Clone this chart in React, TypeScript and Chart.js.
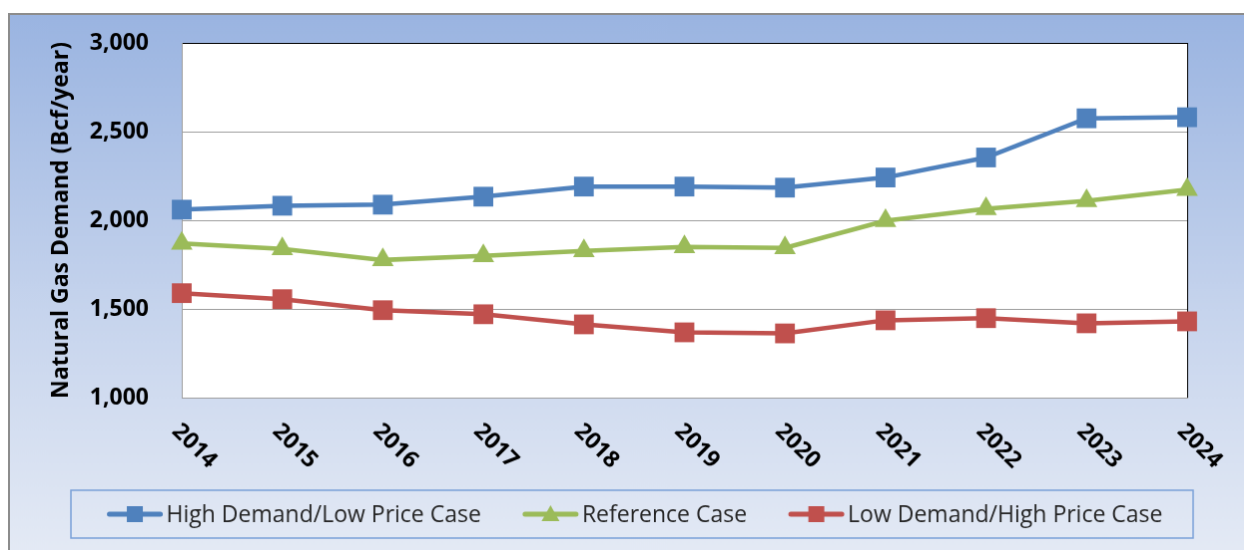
import React, { useEffect, useRef } from "react";
import { Chart, registerables } from "chart.js";

Chart.register(...registerables);

const years = ["2014", "2015", "2016", "2017", "2018", "2019", "2020", "2021", "2022", "2023", "2024"];
const highDemandLowPrice = [2060, 2082, 2088, 2133, 2190, 2190, 2184, 2241, 2354, 2575, 2581];
const referenceCase = [1870, 1838, 1776, 1799, 1827, 1850, 1844, 1997, 2065, 2110, 2173];
const lowDemandHighPrice = [1589, 1555, 1493, 1470, 1413, 1368, 1362, 1436, 1448, 1419, 1430];
const yTickValues = [1000, 1500, 2000, 2500, 3000];
const seriesLabels = ["High Demand/Low Price Case", "Reference Case", "Low Demand/High Price Case"];
const yAxisTitle = "Natural Gas Demand (Bcf/year)";

const BLUE = "#4f81bd";
const GREEN = "#9bbb59";
const RED = "#c0504d";
const FONT = "'Open Sans', 'Noto Sans', sans-serif";

const decorPlugin = {
  id: "decor",
  beforeDraw(chart: any) {
    const { ctx, chartArea: a, width, height } = chart;
    ctx.save();
    const g = ctx.createLinearGradient(0, 0, 0, height);
    g.addColorStop(0, "#9ab4e1");
    g.addColorStop(0.55, "#c6d4ed");
    g.addColorStop(1, "#e4eaf5");
    ctx.fillStyle = g;
    ctx.fillRect(0, 0, width, height);
    ctx.fillStyle = "#ffffff";
    ctx.fillRect(a.left, a.top, a.right - a.left, a.bottom - a.top);
    ctx.restore();
  },
  beforeDatasetsDraw(chart: any) {
    const { ctx, chartArea: a } = chart;
    ctx.save();
    ctx.strokeStyle = "#000000";
    ctx.lineWidth = 1;
    ctx.beginPath();
    ctx.moveTo(a.right + 0.5, a.top);
    ctx.lineTo(a.right + 0.5, a.bottom);
    ctx.stroke();
    ctx.restore();
  },
  afterDraw(chart: any) {
    const { ctx, chartArea: a } = chart;
    const xs = chart.scales.x;
    ctx.save();
    // rotated x labels
    ctx.fillStyle = "#000";
    ctx.font = `bold 23px ${FONT}`;
    ctx.textAlign = "left";
    ctx.textBaseline = "middle";
    years.forEach((yr, i) => {
      const x = xs.getPixelForValue(i);
      ctx.save();
      ctx.translate(x - 6, a.bottom + 30);
      ctx.rotate(Math.PI / 4);
      ctx.fillText(yr, 0, 0);
      ctx.restore();
    });
    // legend box
    const boxL = 61, boxT = 477, boxR = 1185, boxB = 525;
    ctx.strokeStyle = "#7aa0d8";
    ctx.lineWidth = 1.5;
    ctx.strokeRect(boxL, boxT, boxR - boxL, boxB - boxT);
    ctx.font = `23px ${FONT}`;
    const lineW = 55, gap = 4, itemGap = 42;
    const widths = seriesLabels.map((t) => ctx.measureText(t).width);
    const total = widths.reduce((s, w) => s + lineW + gap + w, 0) + itemGap * 2;
    let x = (boxL + boxR) / 2 - total / 2 + 3;
    const cy = (boxT + boxB) / 2;
    const colors = [BLUE, GREEN, RED];
    const styles = ["rect", "triangle", "rect"];
    seriesLabels.forEach((t, i) => {
      ctx.strokeStyle = colors[i];
      ctx.lineWidth = 5;
      ctx.lineCap = "round";
      ctx.beginPath();
      ctx.moveTo(x + 2, cy);
      ctx.lineTo(x + lineW - 2, cy);
      ctx.stroke();
      ctx.fillStyle = colors[i];
      const mx = x + lineW / 2;
      if (styles[i] === "rect") {
        ctx.fillRect(mx - 8, cy - 8, 16, 16);
      } else {
        ctx.beginPath();
        ctx.moveTo(mx, cy - 9);
        ctx.lineTo(mx + 9, cy + 7);
        ctx.lineTo(mx - 9, cy + 7);
        ctx.closePath();
        ctx.fill();
      }
      ctx.fillStyle = "#262626";
      ctx.textAlign = "left";
      ctx.textBaseline = "middle";
      ctx.fillText(t, x + lineW + gap, cy + 1);
      x += lineW + gap + widths[i] + itemGap;
    });
    ctx.restore();
  },
};

export default function App() {
  const ref = useRef<HTMLCanvasElement | null>(null);
  useEffect(() => {
    if (!ref.current) return;
    const mk = (label: string, data: number[], color: string, style: string, r: number) => ({
      label,
      data,
      borderColor: color,
      backgroundColor: color,
      borderWidth: 4.5,
      pointStyle: style,
      pointRadius: r,
      pointHoverRadius: r,
      pointBorderWidth: 0,
      pointBackgroundColor: color,
      tension: 0,
    });
    const chart = new Chart(ref.current, {
      type: "line",
      data: {
        labels: years,
        datasets: [
          mk(seriesLabels[0], highDemandLowPrice, BLUE, "rect", 14),
          mk(seriesLabels[1], referenceCase, GREEN, "triangle", 12.5),
          mk(seriesLabels[2], lowDemandHighPrice, RED, "rect", 14),
        ],
      },
      options: {
        responsive: false,
        animation: false,
        devicePixelRatio: 1,
        layout: { padding: { left: 0, top: 28, right: 61, bottom: 0 }, autoPadding: false },
        plugins: { legend: { display: false }, tooltip: { enabled: false } },
        scales: {
          x: {
            type: "category",
            offset: false,
            grid: { display: false, drawTicks: false },
            border: { display: true, color: "#a0a0a0", width: 1 },
            ticks: { display: false },
            afterFit: (s: any) => {
              s.height = 156;
            },
          },
          y: {
            min: 1000,
            max: 3000,
            afterBuildTicks: (s: any) => {
              s.ticks = yTickValues.map((v) => ({ value: v }));
            },
            grid: {
              drawTicks: true,
              tickLength: 33,
              tickColor: "rgba(0,0,0,0)",
              color: (c: any) => (c.tick && c.tick.value === 3000 ? "#000000" : "#a0a0a0"),
              lineWidth: 1,
            },
            border: { display: true, color: "#a0a0a0", width: 1 },
            ticks: {
              padding: 0,
              color: "#000",
              font: { family: FONT, size: 23, weight: "bold" },
              callback: (v: any) => Number(v).toLocaleString("en-US"),
            },
            title: {
              display: true,
              text: yAxisTitle,
              color: "#000",
              font: { family: FONT, size: 23, weight: "bold" },
              padding: { top: 38, bottom: 0 },
            },
            afterFit: (s: any) => {
              s.width = 172;
            },
          },
        },
      },
      plugins: [decorPlugin],
    } as any);
    return () => chart.destroy();
  }, []);
  return (
    <canvas
      ref={ref}
      width={1240}
      height={540}
      style={{
        position: "fixed",
        left: 8,
        top: 13,
        borderLeft: "2px solid #8c8c8c",
        borderTop: "2px solid #8c8c8c",
        display: "block",
      }}
    />
  );
}
